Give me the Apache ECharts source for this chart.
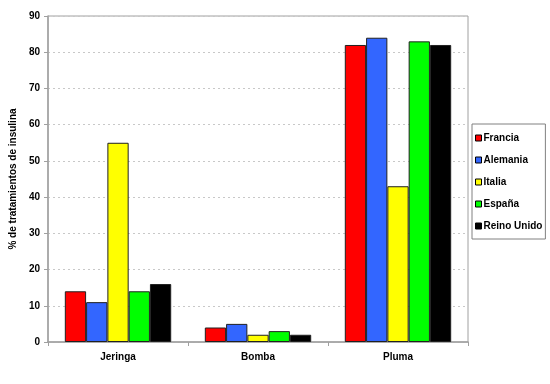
<!DOCTYPE html>
<html><head><meta charset="utf-8">
<script src="https://cdn.jsdelivr.net/npm/echarts@6/dist/echarts.min.js"></script>
<style>html,body{margin:0;padding:0;background:#fff}#c{width:550px;height:384px}</style>
</head><body><div id="c"></div>
<script>
var categories = ['Jeringa', 'Bomba', 'Pluma'];
var seriesNames = ['Francia', 'Alemania', 'Italia', 'España', 'Reino Unido'];
var francia = [14, 4, 82];
var alemania = [11, 5, 84];
var italia = [55, 2, 43];
var espana = [14, 3, 83];
var reinoUnido = [16, 2, 82];
var yTicks = [0, 10, 20, 30, 40, 50, 60, 70, 80, 90];
var colors = ['#ff0000', '#3366ff', '#ffff00', '#00ff00', '#000000'];
var values = [francia, alemania, italia, espana, reinoUnido];

var font = 'Liberation Sans, Arial, sans-serif';
var chart = echarts.init(document.getElementById('c'), null, {renderer: 'canvas'});
chart.setOption({
  animation: false,
  grid: {left: 45, right: 82, top: 16, bottom: 42, show: true, borderColor: '#a0a0a0', borderWidth: 1, backgroundColor: 'transparent'},
  legend: {
    orient: 'vertical', left: 472, top: 124,
    data: seriesNames,
    itemWidth: 6, itemHeight: 6, itemGap: 12,
    padding: [9, 3, 8, 3],
    borderColor: '#808080', borderWidth: 1,
    icon: 'rect',
    textStyle: {fontFamily: font, fontWeight: 'bold', fontSize: 10, color: '#000', padding: [0, 0, 0, -3]},
    itemStyle: {borderColor: '#000', borderWidth: 1}
  },
  xAxis: {
    type: 'category', data: categories,
    axisLine: {lineStyle: {color: '#a0a0a0', width: 1.5}},
    axisTick: {show: true, alignWithLabel: false, length: 4, lineStyle: {color: '#a0a0a0'}},
    axisLabel: {fontFamily: font, fontWeight: 'bold', fontSize: 10, color: '#000', margin: 10}
  },
  yAxis: {
    type: 'value', min: 0, max: 90, interval: 10,
    name: '% de tratamientos de insulina', nameLocation: 'middle', nameGap: 22,
    nameTextStyle: {fontFamily: font, fontWeight: 'bold', fontSize: 10, color: '#000'},
    axisLine: {show: true, lineStyle: {color: '#a0a0a0', width: 1.5}},
    axisTick: {show: true, length: 4, lineStyle: {color: '#a0a0a0'}},
    axisLabel: {fontFamily: font, fontWeight: 'bold', fontSize: 10, color: '#000', margin: 8,
      formatter: function (v) { return yTicks.indexOf(v) >= 0 ? String(v) : ''; }},
    splitLine: {show: true, lineStyle: {color: '#c8c8c8', type: [2, 3]}}
  },
  series: seriesNames.map(function (n, i) {
    return {
      name: n, type: 'bar', data: values[i],
      barGap: '0%', barCategoryGap: '24%',
      itemStyle: {color: colors[i], borderColor: '#202020', borderWidth: 1}
    };
  })
});
</script></body></html>
